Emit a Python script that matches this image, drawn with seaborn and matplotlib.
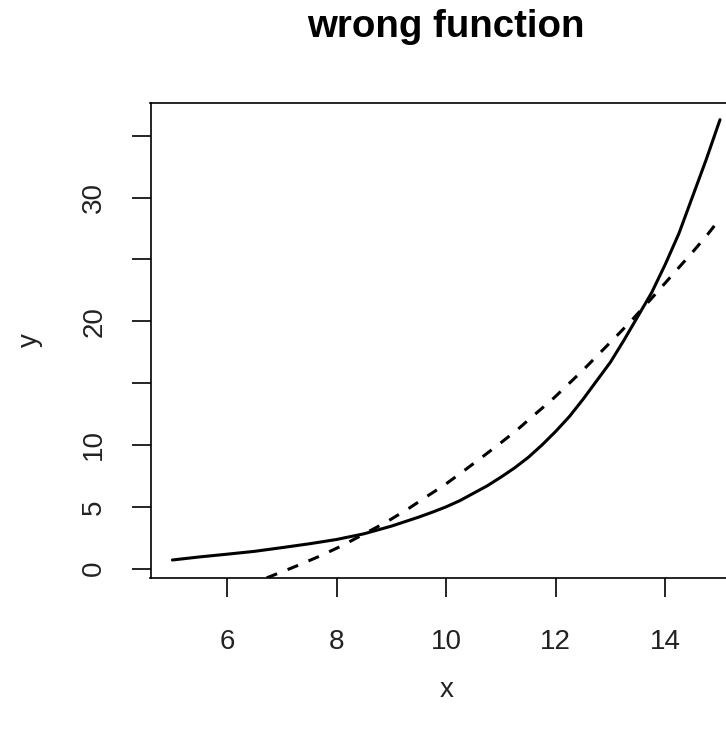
import matplotlib
matplotlib.use("Agg")
import matplotlib.pyplot as plt
import seaborn as sns
import pandas as pd

# ---- data ----
title = "wrong function"
x_label = "x"
y_label = "y"

true_x = [5.0, 5.5, 6.0, 6.5, 7.0, 7.5, 8.0, 8.5, 9.0, 9.5, 9.75, 10.0, 10.25,
          10.5, 10.75, 11.0, 11.25, 11.5, 11.75, 12.0, 12.25, 12.5, 12.75, 13.0,
          13.25, 13.5, 13.75, 14.0, 14.25, 14.5, 14.75, 15.0]
true_y = [0.70, 0.95, 1.17, 1.40, 1.70, 2.01, 2.36, 2.82, 3.44, 4.17, 4.57, 5.0,
          5.5, 6.1, 6.7, 7.4, 8.15, 9.0, 10.0, 11.1, 12.3, 13.7, 15.2, 16.7,
          18.5, 20.4, 22.3, 24.6, 27.1, 30.1, 33.1, 36.3]

fit_x = [6.72, 7.27, 7.70, 8.09, 8.5, 8.92, 9.31, 9.65, 9.98, 10.32, 10.65, 10.99,
         11.29, 11.6, 11.93, 12.18, 12.51, 12.82, 13.12, 13.37, 13.7, 13.95, 14.22,
         14.52, 14.77, 15.0]
fit_y = [-0.75, 0.22, 1.03, 1.84, 2.8, 3.8, 4.85, 5.85, 6.8, 7.9, 9.0, 10.15,
         11.2, 12.4, 13.65, 14.7, 16.1, 17.5, 18.85, 20.0, 21.6, 22.85, 24.2,
         25.7, 27.0, 28.3]

x_ticks = [6, 8, 10, 12, 14]
x_tick_labels = ["6", "8", "10", "12", "14"]
y_ticks = [0, 5, 10, 15, 20, 25, 30, 35]
y_tick_labels = ["0", "5", "10", "", "20", "", "30", ""]

# ---- styling ----
sns.set_theme(style="white")
plt.rcParams["font.family"] = ["Liberation Sans", "DejaVu Sans"]

W, H, DPI = 726, 730, 100
fig = plt.figure(figsize=(W / DPI, H / DPI), dpi=DPI)
fig.patch.set_facecolor("white")

# plot region in pixels (R style, right edge runs past the image)
left_px, right_px, top_px, bottom_px = 150.5, 741.9, 102.5, 578.3
ax = fig.add_axes([left_px / W, 1 - bottom_px / H,
                   (right_px - left_px) / W, (bottom_px - top_px) / H])
ax.set_facecolor("white")

df_true = pd.DataFrame({"x": true_x, "y": true_y})
df_fit = pd.DataFrame({"x": fit_x, "y": fit_y})

sns.lineplot(data=df_true, x="x", y="y", ax=ax, color="black", lw=2.2,
             sort=False, estimator=None)
sns.lineplot(data=df_fit, x="x", y="y", ax=ax, color="black", lw=2.2,
             sort=False, estimator=None)
ax.lines[0].set_solid_joinstyle("round")
ax.lines[-1].set_linestyle((0, (3.7, 3.7)))
ax.lines[-1].set_dash_capstyle("butt")

ax.set_xlim(4.6, 15.4)
ax.set_ylim(-0.78, 37.69)

for s in ax.spines.values():
    s.set_visible(True)
    s.set_color("black")
    s.set_linewidth(1.2)

ax.set_xticks(x_ticks)
ax.set_xticklabels(x_tick_labels)
ax.set_yticks(y_ticks)
ax.set_yticklabels(y_tick_labels, rotation=90, va="center")
ax.tick_params(axis="both", direction="out", length=13.7, width=1.2,
               color="black", labelcolor="#222222", labelsize=20, bottom=True, left=True)
ax.tick_params(axis="x", pad=23)
ax.tick_params(axis="y", pad=17.5)

ax.set_xlabel(x_label, fontsize=20, color="#222222", va="center")
ax.xaxis.set_label_coords(0.5, (bottom_px - 690) / (bottom_px - top_px))
ax.set_ylabel(y_label, fontsize=20, color="#222222", va="center")
ax.yaxis.set_label_coords((30 - left_px) / (right_px - left_px), 0.5)

ax.set_title(title, fontsize=27.6, fontweight="bold", color="black",
             y=(bottom_px - 37.3) / (bottom_px - top_px), va="baseline", pad=0)

fig.savefig("out.png", dpi=DPI, facecolor="white")
